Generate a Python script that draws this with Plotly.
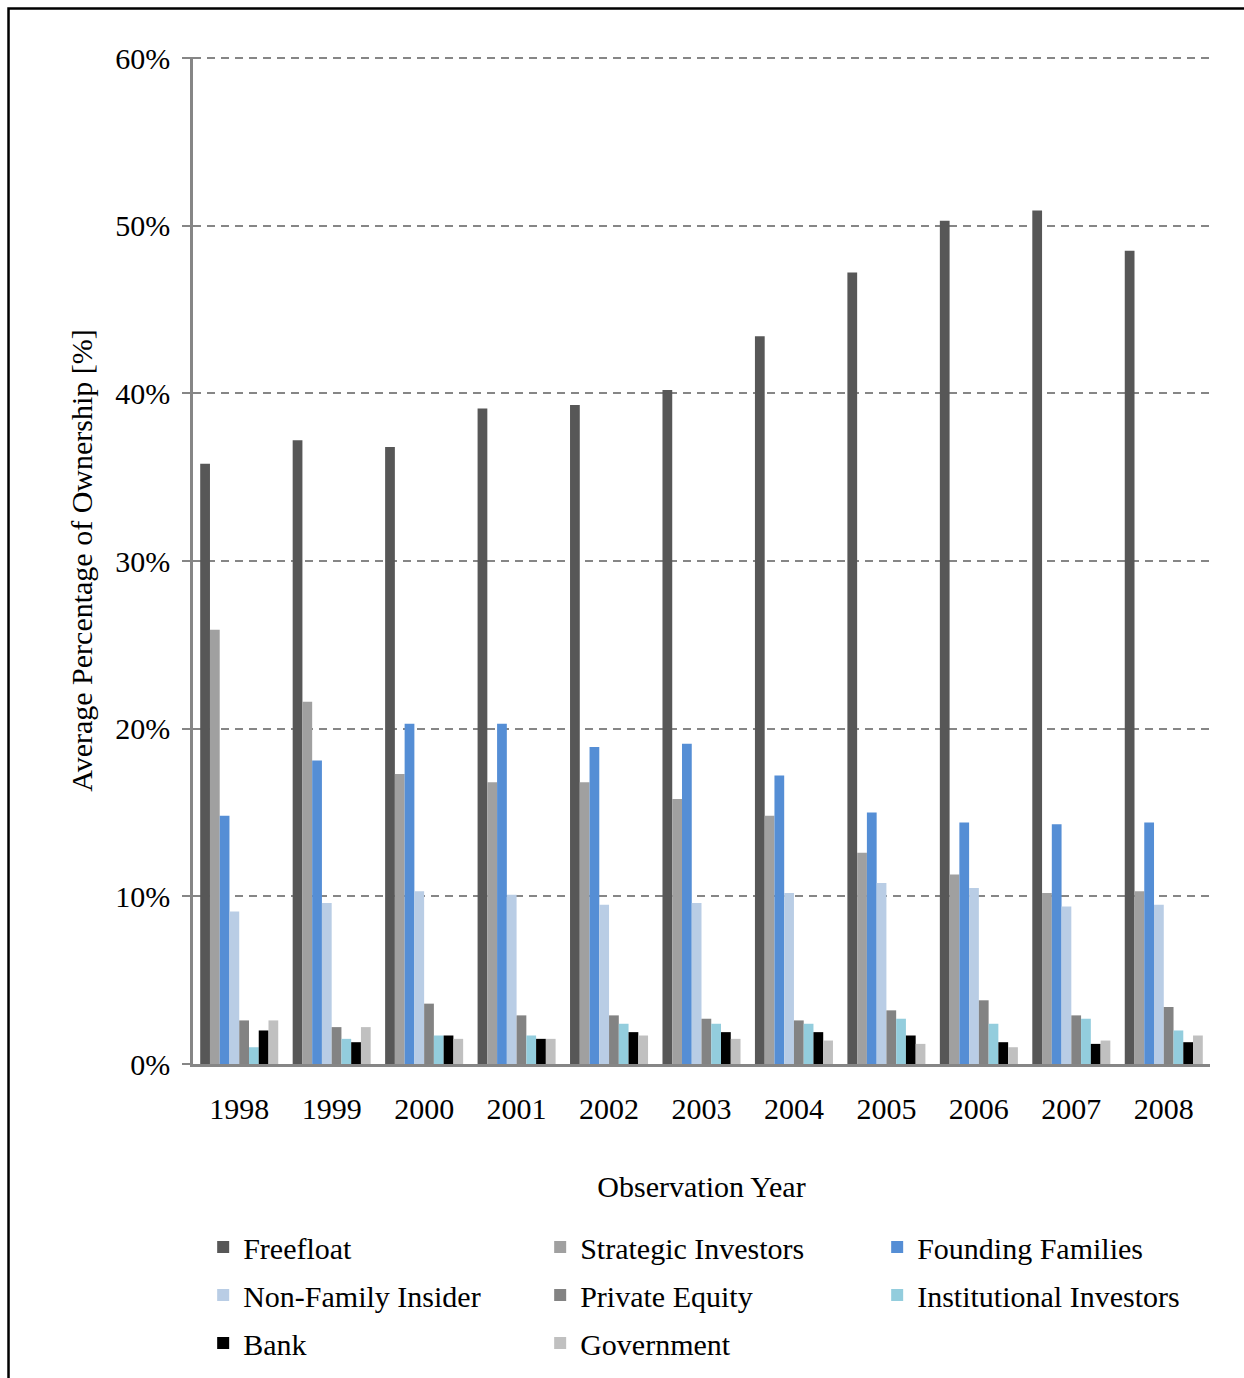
import plotly.graph_objects as go

# Observation years on the category axis
years = ["1998", "1999", "2000", "2001", "2002", "2003",
         "2004", "2005", "2006", "2007", "2008"]

# Average ownership share per shareholder type, in percent
freefloat = [35.8, 37.2, 36.8, 39.1, 39.3, 40.2, 43.4, 47.2, 50.3, 50.9, 48.5]
strategic_investors = [25.9, 21.6, 17.3, 16.8, 16.8, 15.8, 14.8, 12.6, 11.3, 10.2, 10.3]
founding_families = [14.8, 18.1, 20.3, 20.3, 18.9, 19.1, 17.2, 15.0, 14.4, 14.3, 14.4]
non_family_insider = [9.1, 9.6, 10.3, 10.1, 9.5, 9.6, 10.2, 10.8, 10.5, 9.4, 9.5]
private_equity = [2.6, 2.2, 3.6, 2.9, 2.9, 2.7, 2.6, 3.2, 3.8, 2.9, 3.4]
institutional_investors = [1.0, 1.5, 1.7, 1.7, 2.4, 2.4, 2.4, 2.7, 2.4, 2.7, 2.0]
bank = [2.0, 1.3, 1.7, 1.5, 1.9, 1.9, 1.9, 1.7, 1.3, 1.2, 1.3]
government = [2.6, 2.2, 1.5, 1.5, 1.7, 1.5, 1.4, 1.2, 1.0, 1.4, 1.7]

y_tick_values = [0, 10, 20, 30, 40, 50, 60]
y_tick_labels = ["0%", "10%", "20%", "30%", "40%", "50%", "60%"]

series = [
    ("Freefloat", freefloat, "#575757", "legend"),
    ("Strategic Investors", strategic_investors, "#A0A0A0", "legend"),
    ("Founding Families", founding_families, "#558ED5", "legend"),
    ("Non-Family Insider", non_family_insider, "#B9CDE5", "legend2"),
    ("Private Equity", private_equity, "#838383", "legend2"),
    ("Institutional Investors", institutional_investors, "#93CDDD", "legend2"),
    ("Bank", bank, "#000000", "legend3"),
    ("Government", government, "#C0C0C0", "legend3"),
]

FONT = "Liberation Serif"
AXIS_GREY = "#868686"

fig = go.Figure()
for name, values, color, legend_id in series:
    fig.add_trace(go.Bar(
        x=years, y=values, name=name,
        marker=dict(color=color, line=dict(width=0)),
        legend=legend_id,
    ))

# three single-row legends, one per row of entries
legend_common = dict(
    orientation="h",
    xanchor="left", x=0.010,
    yanchor="middle",
    entrywidth=292, entrywidthmode="pixels",
    font=dict(family=FONT, size=30, color="#000000"),
    bgcolor="rgba(0,0,0,0)",
    itemclick=False, itemdoubleclick=False,
)

fig.update_layout(
    width=1244, height=1378,
    margin=dict(l=193, r=34, t=57, b=314, autoexpand=False),
    paper_bgcolor="#FFFFFF", plot_bgcolor="#FFFFFF",
    font=dict(family=FONT, size=30, color="#000000"),
    barmode="group", bargap=0.156, bargroupgap=0,
    showlegend=True,
    legend=dict(legend_common, y=-0.1817),
    legend2=dict(legend_common, y=-0.2294),
    legend3=dict(legend_common, y=-0.2770),
    xaxis=dict(
        type="category",
        showline=True, linecolor=AXIS_GREY, linewidth=2.5,
        ticks="", showgrid=False,
        tickfont=dict(family=FONT, size=30, color="#000000"),
        ticklabelstandoff=16,
        title=dict(text="Observation Year", standoff=53,
                   font=dict(family=FONT, size=30, color="#000000")),
    ),
    yaxis=dict(
        range=[0, 60.06], tickvals=y_tick_values, ticktext=y_tick_labels,
        showline=True, linecolor=AXIS_GREY, linewidth=2.5,
        ticks="outside", ticklen=8, tickwidth=2, tickcolor=AXIS_GREY,
        showgrid=True, gridcolor=AXIS_GREY, gridwidth=2, griddash="8px,6px",
        zeroline=False,
        tickfont=dict(family=FONT, size=30, color="#000000"),
        ticklabelstandoff=6,
        title=dict(text="Average Percentage of Ownership [%]", standoff=14,
                   font=dict(family=FONT, size=30, color="#000000")),
    ),
    shapes=[dict(
        type="rect", xref="paper", yref="paper",
        x0=-0.1814, x1=1.06, y0=-0.36, y1=1.0482,
        line=dict(color="#000000", width=2.5),
        fillcolor="rgba(0,0,0,0)", layer="above",
    )],
)

fig.write_html("out.html")
